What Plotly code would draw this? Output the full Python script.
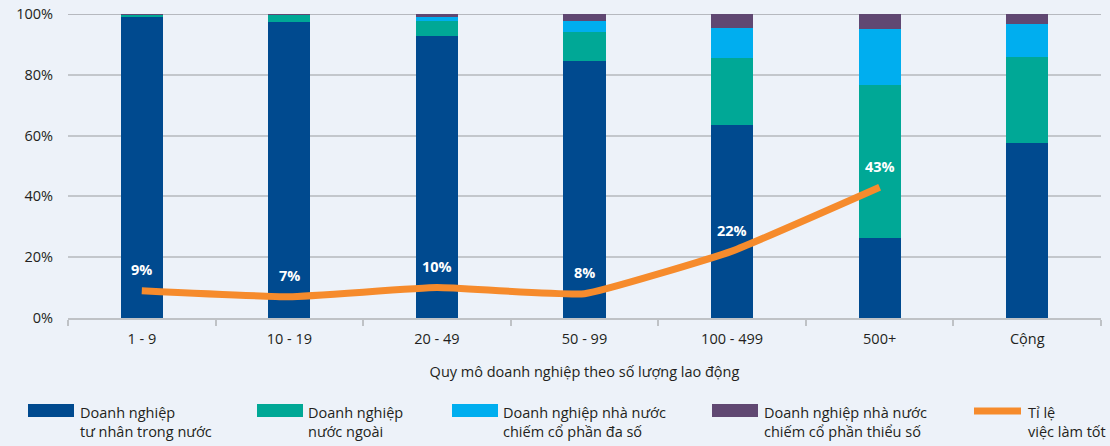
import plotly.graph_objects as go

categories = ["1 - 9", "10 - 19", "20 - 49", "50 - 99", "100 - 499", "500+", "Cộng"]
private_domestic = [98.9, 97.3, 92.9, 84.6, 63.4, 26.2, 57.5]
foreign = [1.0, 2.4, 4.9, 9.4, 22.0, 50.4, 28.2]
state_majority = [0.05, 0.1, 1.3, 3.6, 9.9, 18.5, 10.9]
state_minority = [0.05, 0.2, 0.9, 2.4, 4.7, 4.9, 3.4]
good_jobs_cats = ["1 - 9", "10 - 19", "20 - 49", "50 - 99", "100 - 499", "500+"]
good_jobs = [9, 7, 10, 8, 22, 43]
good_jobs_labels = ["9%", "7%", "10%", "8%", "22%", "43%"]
y_tick_vals = [0, 20, 40, 60, 80, 100]
y_tick_text = ["0%", "20%", "40%", "60%", "80%", "100%"]

series_names = [
    "Doanh nghiệp<br>tư nhân trong nước",
    "Doanh nghiệp<br>nước ngoài",
    "Doanh nghiệp nhà nước<br>chiếm cổ phần đa số",
    "Doanh nghiệp nhà nước<br>chiếm cổ phần thiểu số",
]
line_name = "Tỉ lệ<br>việc làm tốt"
colors = ["#004a8f", "#00a896", "#00aeef", "#604872"]
orange = "#f68b2c"

W, H = 1110, 446
ML, MR, MT, MB = 68, 9, 14, 128
FONT = "Open Sans"
TXT = "#231f20"

fig = go.Figure()
for name, vals, col in zip(series_names, [private_domestic, foreign, state_majority, state_minority], colors):
    fig.add_trace(go.Bar(x=categories, y=vals, name=name, marker=dict(color=col, line=dict(width=0)),
                         width=0.285, showlegend=False))

fig.add_trace(go.Scatter(x=good_jobs_cats, y=good_jobs, mode="lines", name=line_name,
                         line=dict(color=orange, width=7, shape="spline", smoothing=0.35),
                         showlegend=False))

for c, v, t in zip(good_jobs_cats, good_jobs, good_jobs_labels):
    fig.add_annotation(x=c, y=v, text="<b>" + t + "</b>", showarrow=False, yshift=21,
                       font=dict(family=FONT, size=14.5, color="white"))

# top 100% line darker
fig.add_shape(type="line", xref="paper", yref="y", x0=0, x1=1, y0=100, y1=100,
              line=dict(color="#a3a6ab", width=1.5), layer="below")

# custom legend
pw = W - ML - MR
ph = H - MT - MB
def px(xp):
    return (xp - ML) / pw
def py(yp):
    return (H - MB - yp) / ph

swatch_x = [28, 257, 452, 712]
text_x = [78, 306, 501, 762]
for sx, tx, col, name in zip(swatch_x, text_x, colors, series_names):
    fig.add_shape(type="rect", xref="paper", yref="paper", x0=px(sx), x1=px(sx + 46),
                  y0=py(417), y1=py(404), fillcolor=col, line=dict(width=0))
    fig.add_annotation(xref="paper", yref="paper", x=px(tx), y=py(401), text=name,
                       showarrow=False, xanchor="left", yanchor="top", align="left",
                       font=dict(family=FONT, size=14.5, color=TXT))
fig.add_shape(type="line", xref="paper", yref="paper", x0=px(974), x1=px(1021),
              y0=py(411), y1=py(411), line=dict(color=orange, width=7))
fig.add_annotation(xref="paper", yref="paper", x=px(1026), y=py(401), text=line_name,
                   showarrow=False, xanchor="left", yanchor="top", align="left",
                   font=dict(family=FONT, size=14.5, color=TXT))

fig.update_layout(
    width=W, height=H,
    margin=dict(l=ML, r=MR, t=MT, b=MB, autoexpand=False),
    barmode="stack",
    paper_bgcolor="#edf2f9",
    plot_bgcolor="#edf2f9",
    font=dict(family=FONT, size=14, color=TXT),
    showlegend=False,
)
fig.update_xaxes(
    type="category", automargin=False,
    showline=True, linecolor="#bfc2c6", linewidth=1.5,
    ticks="outside", tickson="boundaries", ticklen=6, tickcolor="#bfc2c6", tickwidth=1.5,
    ticklabelstandoff=7,
    showgrid=False,
    title=dict(text="Quy mô doanh nghiệp theo số lượng lao động", standoff=20,
               font=dict(family=FONT, size=14.5, color=TXT)),
    tickfont=dict(family=FONT, size=14.5, color=TXT),
)
fig.update_yaxes(
    range=[0, 100], automargin=False, tickmode="array",
    tickvals=y_tick_vals, ticktext=y_tick_text,
    showgrid=True, gridcolor="#c3c7cc", gridwidth=1.5,
    zeroline=False, showline=False, ticks="",
    ticklabelstandoff=14,
    tickfont=dict(family=FONT, size=14.5, color=TXT),
)

fig.write_html("out.html")
